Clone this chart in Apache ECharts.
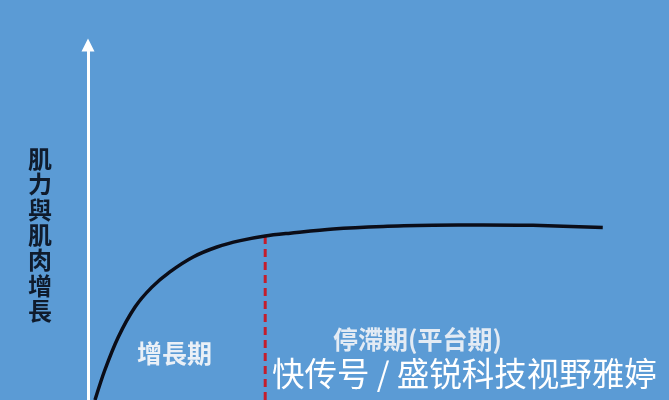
<!DOCTYPE html>
<html><head><meta charset="utf-8">
<script src="https://cdn.jsdelivr.net/npm/echarts@6/dist/echarts.min.js"></script>
<style>html,body{margin:0;padding:0;background:#5b9bd5;}#c{width:669px;height:400px;}</style>
</head><body><div id="c"></div>
<script>
const curveX = [1.2, 2.9, 5.2, 8.1, 11.0, 14.1, 18.1, 22.2, 26.2, 30.5, 34.8, 42.2, 50.8, 59.4, 68.0, 76.6, 88.6];
const curveY = [0, 8.45, 17.7, 26.2, 31.8, 36.1, 40.3, 43.1, 44.9, 46.2, 47.0, 48.2, 48.9, 49.2, 49.3, 49.2, 48.6];
const dividerX = 30.5;
const dividerY = [0, 46.0];
const yAxisTitle = '肌力與肌肉增長';
const phaseLabels = ['增長期', '停滯期(平台期)'];
const watermark = '快传号 / 盛锐科技视野雅婷';

const chart = echarts.init(document.getElementById('c'), null, {renderer: 'canvas'});
chart.setOption({
  backgroundColor: '#5b9bd5',
  animation: false,
  grid: {left: 88, right: 0, top: 45, bottom: 0, containLabel: false},
  xAxis: {type: 'value', min: 0, max: 100, show: false},
  yAxis: {
    type: 'value', min: 0, max: 100,
    axisLine: {show: true, symbol: ['none', 'triangle'], symbolSize: [13, 13], symbolOffset: [0, 0],
      lineStyle: {color: '#ffffff', width: 3}},
    axisTick: {show: false}, axisLabel: {show: false}, splitLine: {show: false}
  },
  series: [
    {type: 'line', data: curveX.map((x, i) => [x, curveY[i]]), smooth: 0.3, showSymbol: false,
      lineStyle: {color: '#0b0d18', width: 3.5}, z: 3},
    {type: 'line', data: dividerY.map(y => [dividerX, y]), showSymbol: false,
      lineStyle: {color: '#c41e2c', width: 3, type: [8, 5]}, z: 2}
  ],
  graphic: [
    {type: 'text', left: 28, top: 146, style: {text: yAxisTitle.split('').join('\n'), font: 'bold 24px "Noto Sans CJK TC"', lineHeight: 25.4, fill: '#0f1b2c'}},
    {type: 'text', left: 137, top: 341, style: {text: phaseLabels[0], font: 'bold 25px "Noto Sans CJK TC"', fill: '#eaf0f7'}},
    {type: 'text', left: 333, top: 327, style: {text: phaseLabels[1], font: 'bold 25px "Noto Sans CJK TC"', fill: '#e3ebf4'}},
    {type: 'text', left: 272, top: 357, style: {text: watermark, font: '32.5px "Noto Sans CJK SC"', fill: '#ffffff'}, z: 10}
  ]
});
</script></body></html>
